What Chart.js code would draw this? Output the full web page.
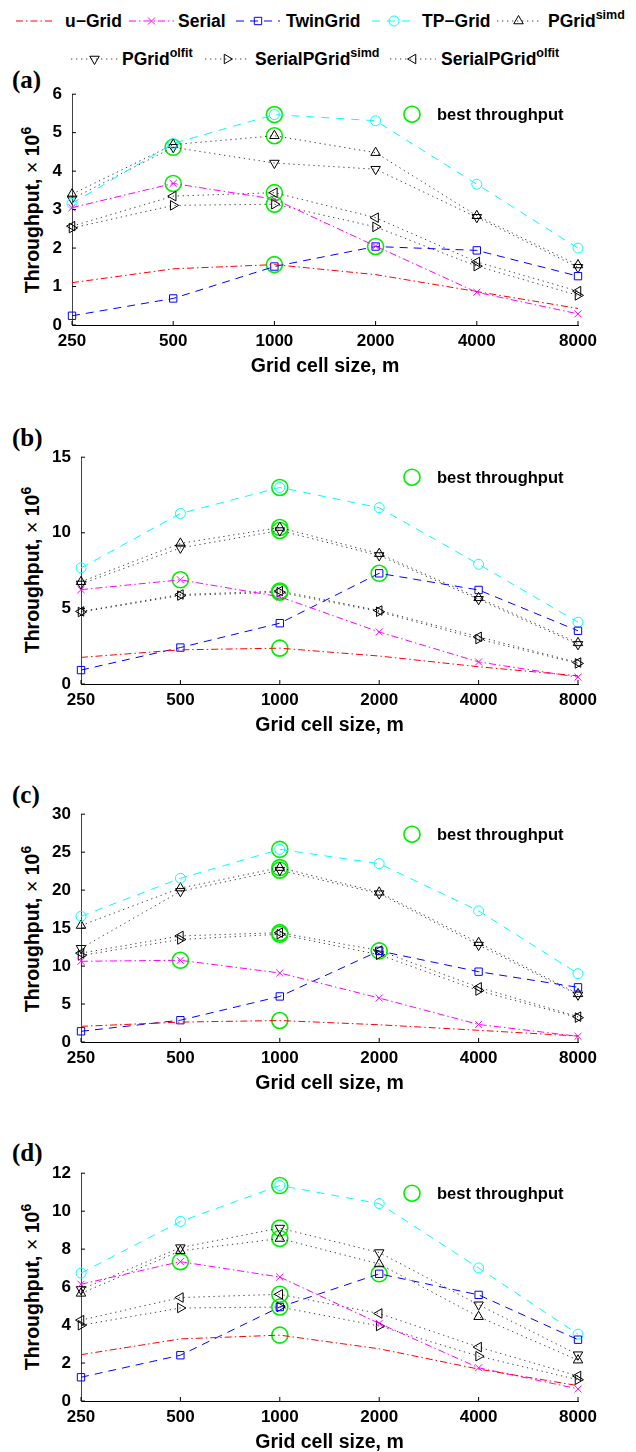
<!DOCTYPE html>
<html>
<head>
<meta charset="utf-8">
<script src="https://cdn.jsdelivr.net/npm/chart.js@4.4.0/dist/chart.umd.min.js"></script>
<style>
  body { margin: 0; width: 636px; height: 1452px; background: #fff; position: relative; overflow: hidden;
         font-family: 'Liberation Sans', Arial, sans-serif; color: #000; }
  .box { position: absolute; left: 0; width: 636px; }
  .tag { position: absolute; left: 12px; font: bold 25px 'Liberation Serif', serif; transform: translateY(-50%); }
  .ytitle { position: absolute; left: 32px; font-weight: bold; font-size: 19.5px; white-space: nowrap;
            transform: translate(-50%, -50%) rotate(-90deg); }
  .ytitle .times { font-weight: normal; }
  .ytitle sup { font-size: 14px; vertical-align: 8px; line-height: 0; }
  .leg { position: absolute; font-weight: bold; font-size: 17.5px; white-space: nowrap; transform: translateY(-50%); }
  .leg sup { font-size: 12.5px; vertical-align: 8px; line-height: 0; }
  .sample { position: absolute; }
</style>
</head>
<body>
<div id="legend"></div>

<div class="tag" style="top:80px">(a)</div>
<div class="tag" style="top:438px">(b)</div>
<div class="tag" style="top:795px">(c)</div>
<div class="tag" style="top:1153px">(d)</div>

<div class="ytitle" style="top:210px">Throughput, <span class="times">×</span> 10<sup>6</sup></div>
<div class="ytitle" style="top:570px">Throughput, <span class="times">×</span> 10<sup>6</sup></div>
<div class="ytitle" style="top:929px">Throughput, <span class="times">×</span> 10<sup>6</sup></div>
<div class="ytitle" style="top:1287px">Throughput, <span class="times">×</span> 10<sup>6</sup></div>

<div class="box" style="top:74px;height:302px"><canvas id="chartA"></canvas></div>
<div class="box" style="top:437px;height:298px"><canvas id="chartB"></canvas></div>
<div class="box" style="top:794px;height:299px"><canvas id="chartC"></canvas></div>
<div class="box" style="top:1153px;height:299px"><canvas id="chartD"></canvas></div>

<script>
// x categories (grid cell size, m)
const cellSizes = ['250', '500', '1000', '2000', '4000', '8000'];

// series names, superscripts used in the legend
const seriesNames = ['u\u2212Grid', 'Serial', 'TwinGrid', 'TP\u2212Grid', 'PGrid', 'PGrid', 'SerialPGrid', 'SerialPGrid'];
const seriesSups = ['', '', '', '', 'simd', 'olfit', 'simd', 'olfit'];

// (a) throughput, x10^6
const aUGrid = [1.10, 1.46, 1.57, 1.31, 0.87, 0.43];
const aSerial = [3.05, 3.68, 3.27, 2.05, 0.85, 0.29];
const aTwinGrid = [0.24, 0.69, 1.52, 2.04, 1.94, 1.27];
const aTPGrid = [3.16, 4.72, 5.47, 5.31, 3.66, 2.00];
const aPGridSimd = [3.40, 4.69, 4.92, 4.48, 2.84, 1.56];
const aPGridOlfit = [3.28, 4.62, 4.21, 4.05, 2.80, 1.50];
const aSerialPGridSimd = [2.52, 3.11, 3.14, 2.55, 1.53, 0.77];
const aSerialPGridOlfit = [2.57, 3.35, 3.44, 2.79, 1.64, 0.88];

// (b)
const bUGrid = [1.76, 2.26, 2.37, 1.85, 1.14, 0.54];
const bSerial = [6.24, 6.89, 5.77, 3.44, 1.46, 0.45];
const bTwinGrid = [0.92, 2.41, 4.02, 7.32, 6.22, 3.52];
const bTPGrid = [7.68, 11.28, 13.0, 11.66, 7.92, 4.09];
const bPGridSimd = [6.76, 9.30, 10.35, 8.62, 5.70, 2.72];
const bPGridOlfit = [6.62, 9.00, 10.15, 8.50, 5.60, 2.62];
const bSerialPGridSimd = [4.76, 5.85, 6.07, 4.78, 2.97, 1.36];
const bSerialPGridOlfit = [4.80, 5.92, 6.15, 4.86, 3.12, 1.42];

// (c)
const cUGrid = [2.06, 2.62, 2.83, 2.27, 1.54, 0.78];
const cSerial = [10.63, 10.76, 9.09, 5.79, 2.31, 0.75];
const cTwinGrid = [1.41, 2.87, 6.0, 12.0, 9.26, 7.2];
const cTPGrid = [16.55, 21.56, 25.37, 23.49, 17.27, 9.0];
const cPGridSimd = [15.34, 20.27, 22.97, 19.71, 13.07, 6.34];
const cPGridOlfit = [12.34, 19.84, 22.63, 19.54, 12.77, 6.21];
const cSerialPGridSimd = [11.4, 13.5, 14.19, 11.49, 6.77, 3.21];
const cSerialPGridOlfit = [11.7, 13.97, 14.4, 12.04, 7.2, 3.34];

// (d)
const dUGrid = [2.44, 3.27, 3.47, 2.75, 1.68, 0.81];
const dSerial = [6.15, 7.34, 6.53, 4.09, 1.75, 0.64];
const dTwinGrid = [1.25, 2.41, 4.95, 6.70, 5.59, 3.23];
const dTPGrid = [6.74, 9.46, 11.35, 10.40, 7.01, 3.52];
const dPGridSimd = [5.67, 7.91, 8.56, 7.22, 4.44, 2.15];
const dPGridOlfit = [5.88, 8.08, 9.11, 7.82, 5.07, 2.44];
const dSerialPGridSimd = [3.99, 4.90, 4.95, 3.95, 2.36, 1.12];
const dSerialPGridOlfit = [4.26, 5.45, 5.62, 4.61, 2.84, 1.32];

// y tick labels
const yTicksA = [0, 1, 2, 3, 4, 5, 6];
const yTicksB = [0, 5, 10, 15];
const yTicksC = [0, 5, 10, 15, 20, 25, 30];
const yTicksD = [0, 2, 4, 6, 8, 10, 12];

// line / marker look of each series (MATLAB-ish)
const dotted = 'rgba(0,0,0,0.75)';
const dotDash = [1.3, 3.7];
const styles = [
    { color: '#ff0000', dash: [7, 3, 1.5, 3], point: false },
    { color: '#ff00ff', dash: [7, 3, 1.5, 3], point: 'crossRot', r: 5 },
    { color: '#0000ff', dash: [8, 6], point: 'rect', r: 5.2 },
    { color: '#00ffff', dash: [8, 7], point: 'circle', r: 5 },
    { color: dotted, dash: dotDash, point: 'triangle', rot: 0, r: 5.5 },
    { color: dotted, dash: dotDash, point: 'triangle', rot: 180, r: 5.5 },
    { color: dotted, dash: dotDash, point: 'triangle', rot: 90, r: 5.5 },
    { color: dotted, dash: dotDash, point: 'triangle', rot: 270, r: 5.5 }
];
const bestColor = '#00ee00';

Chart.defaults.font.family = "'Liberation Sans', Arial, sans-serif";
Chart.defaults.color = '#000';

function drawMarker(ctx, st, x, y) {
    if (!st.point) return;
    ctx.save();
    ctx.setLineDash([]);
    ctx.strokeStyle = st.point === 'triangle' ? '#000' : st.color;
    ctx.fillStyle = 'rgba(0,0,0,0)';
    ctx.lineWidth = 1;
    Chart.helpers.drawPoint(ctx, { pointStyle: st.point, rotation: st.rot || 0, radius: st.r, borderWidth: 1 }, x, y);
    ctx.restore();
}

// --- top legend (HTML text + small canvas samples) ---
const legendRows = [
    { y: 21, items: [[16, 53, 65], [129, 174, 178], [236, 280, 286], [372, 416, 422], [497, 540, 548]] },
    { y: 59, items: [[71, 118, 122], [205, 249, 255], [390, 436, 441]] }
];
const legendEl = document.getElementById('legend');
let k = 0;
legendRows.forEach(row => {
    row.items.forEach(([x0, x1, tx]) => {
        const st = styles[k];
        const cv = document.createElement('canvas');
        cv.className = 'sample';
        cv.width = x1 - x0; cv.height = 16;
        cv.style.left = x0 + 'px'; cv.style.top = (row.y - 8) + 'px';
        const c = cv.getContext('2d');
        c.strokeStyle = st.color; c.lineWidth = 1; c.setLineDash(st.dash);
        c.beginPath(); c.moveTo(0, 8); c.lineTo(cv.width, 8); c.stroke();
        drawMarker(c, st, cv.width / 2, 8);
        legendEl.appendChild(cv);
        const t = document.createElement('div');
        t.className = 'leg';
        t.style.left = tx + 'px'; t.style.top = row.y + 'px';
        t.innerHTML = seriesNames[k] + (seriesSups[k] ? '<sup>' + seriesSups[k] + '</sup>' : '');
        legendEl.appendChild(t);
        k++;
    });
});

// inward tick marks like MATLAB
const inwardTicks = {
    id: 'inwardTicks',
    afterDraw(chart) {
        const { ctx, chartArea, scales: { x, y } } = chart;
        ctx.save();
        ctx.strokeStyle = '#000';
        ctx.lineWidth = 1;
        ctx.beginPath();
        x.ticks.forEach((t, i) => {
            const px = x.getPixelForTick(i);
            ctx.moveTo(px, chartArea.bottom); ctx.lineTo(px, chartArea.bottom - 4);
        });
        y.ticks.forEach((t, i) => {
            const py = y.getPixelForTick(i);
            ctx.moveTo(chartArea.left, py); ctx.lineTo(chartArea.left + 4, py);
        });
        ctx.stroke();
        ctx.restore();
    }
};

// "best throughput" key inside the plot
const bestKey = {
    id: 'bestKey',
    afterDraw(chart) {
        const ds = chart.data.datasets.find(d => d.id === 'best');
        const { ctx, chartArea } = chart;
        const cx = chartArea.right - 166, cy = chartArea.top + 20;
        ctx.save();
        ctx.strokeStyle = ds.borderColor;
        ctx.lineWidth = ds.borderWidth;
        ctx.beginPath(); ctx.arc(cx, cy, ds.pointRadius, 0, Math.PI * 2); ctx.stroke();
        ctx.fillStyle = '#000';
        ctx.font = "bold 16.5px 'Liberation Sans', Arial, sans-serif";
        ctx.textBaseline = 'middle';
        ctx.fillText(ds.label, cx + 25, cy + 1);
        ctx.restore();
    }
};

function makePanel(id, series, yTicks, plotLeft) {
    const datasets = series.map((vals, i) => {
        const st = styles[i];
        return {
            label: seriesNames[i] + seriesSups[i],
            data: vals,
            borderColor: st.color,
            borderWidth: 1,
            borderDash: st.dash,
            pointStyle: st.point || 'circle',
            pointRotation: st.rot || 0,
            pointRadius: st.point ? st.r : 0,
            pointBorderWidth: 1,
            pointBorderColor: st.point === 'triangle' ? '#000' : st.color,
            pointBackgroundColor: 'rgba(0,0,0,0)',
            fill: false,
            tension: 0,
            clip: false
        };
    });
    // green circles on the maximum of each series
    const best = series.map(vals => {
        const m = Math.max(...vals);
        return { x: cellSizes[vals.indexOf(m)], y: m };
    });
    datasets.push({
        id: 'best',
        label: 'best throughput',
        data: best,
        showLine: false,
        pointStyle: 'circle',
        pointRadius: 8,
        borderColor: bestColor,
        borderWidth: 1.6,
        pointBorderWidth: 1.6,
        pointBackgroundColor: 'rgba(0,0,0,0)',
        clip: false
    });

    new Chart(document.getElementById(id), {
        type: 'line',
        data: { labels: cellSizes, datasets },
        options: {
            animation: false,
            responsive: true,
            maintainAspectRatio: false,
            layout: { padding: { top: 15, right: 58, left: 0, bottom: 0 } },
            plugins: { legend: { display: false }, tooltip: { enabled: false } },
            scales: {
                x: {
                    type: 'category',
                    offset: false,
                    grid: { display: false, drawTicks: false },
                    border: { color: '#000', width: 1 },
                    ticks: { padding: 6, color: '#000', maxRotation: 0, autoSkip: false,
                             font: { size: 17, weight: 'bold' } },
                    title: { display: true, text: 'Grid cell size, m', color: '#000', padding: 0,
                             font: { size: 19.5, weight: 'bold', lineHeight: 1 } },
                    afterFit: s => { s.height = 51; }
                },
                y: {
                    min: yTicks[0],
                    max: yTicks[yTicks.length - 1],
                    grid: { display: false, drawTicks: false },
                    border: { color: '#444', width: 1 },
                    ticks: { padding: 10, color: '#000', font: { size: 17, weight: 'bold' } },
                    afterBuildTicks: s => { s.ticks = yTicks.map(v => ({ value: v })); },
                    afterFit: s => { s.width = plotLeft; }
                }
            }
        },
        plugins: [inwardTicks, bestKey]
    });
}

makePanel('chartA', [aUGrid, aSerial, aTwinGrid, aTPGrid, aPGridSimd, aPGridOlfit, aSerialPGridSimd, aSerialPGridOlfit], yTicksA, 72);
makePanel('chartB', [bUGrid, bSerial, bTwinGrid, bTPGrid, bPGridSimd, bPGridOlfit, bSerialPGridSimd, bSerialPGridOlfit], yTicksB, 81);
makePanel('chartC', [cUGrid, cSerial, cTwinGrid, cTPGrid, cPGridSimd, cPGridOlfit, cSerialPGridSimd, cSerialPGridOlfit], yTicksC, 81);
makePanel('chartD', [dUGrid, dSerial, dTwinGrid, dTPGrid, dPGridSimd, dPGridOlfit, dSerialPGridSimd, dSerialPGridOlfit], yTicksD, 81);
</script>
</body>
</html>
